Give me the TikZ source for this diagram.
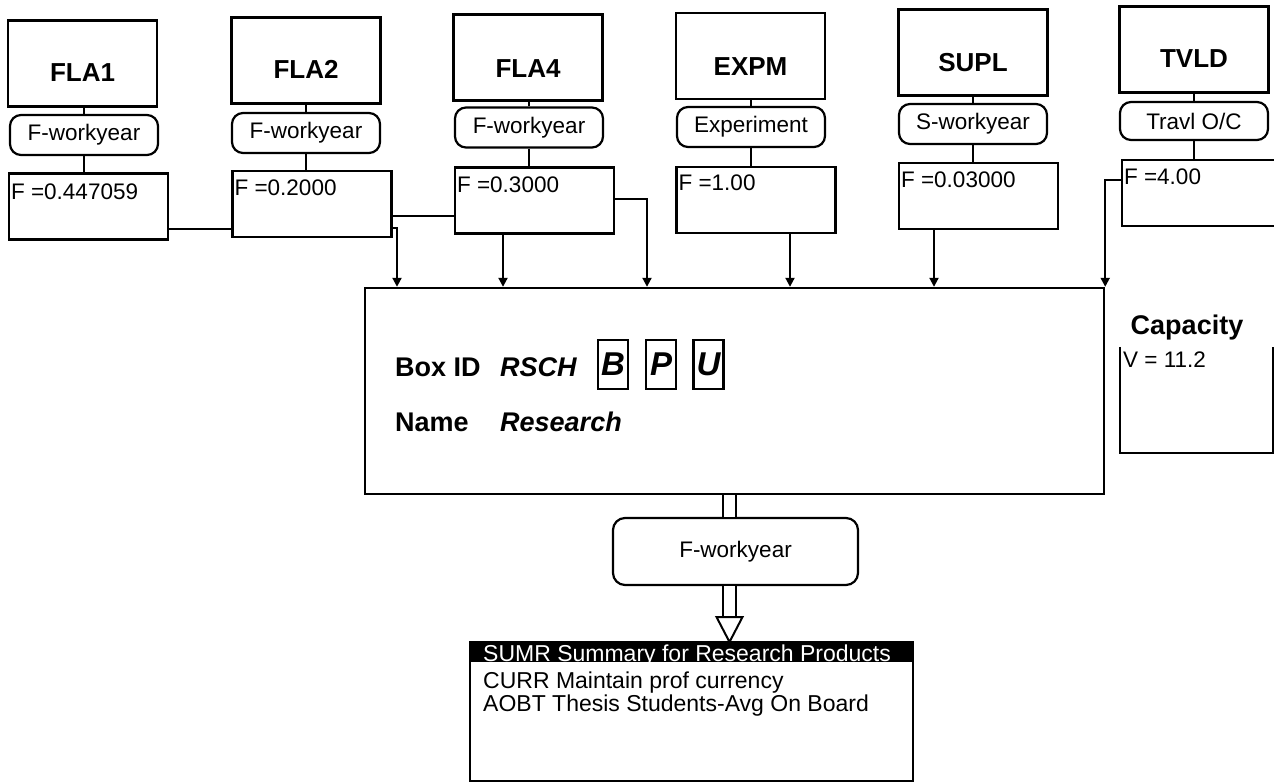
\documentclass[tikz,border=0pt]{standalone}
\usepackage{fontspec}
\setmainfont{Liberation Sans}
\usetikzlibrary{arrows.meta,calc}
\newcommand\fsTitle{\fontsize{26}{29}\selectfont\bfseries}
\newcommand\fsPill{\fontsize{22.5}{25}\selectfont}
\newcommand\fsBig{\fontsize{27}{30}\selectfont\bfseries}
\newcommand\fsList{\fontsize{23}{25}\selectfont}
\tikzset{
  tbox/.style={draw, line width=2.4pt, minimum width=149pt, minimum height=86pt, inner sep=0pt},
  ttext/.style={font=\fsTitle, inner sep=0pt},
  pill/.style={draw, line width=2.2pt, rounded corners=11pt, minimum width=148pt, minimum height=40pt, inner sep=0pt, font=\fsPill},
  fbox/.style={draw, line width=2.2pt, minimum width=159pt, minimum height=66pt, inner sep=0pt},
  ftext/.style={font=\fsPill, anchor=base west, inner sep=0pt},
  ln/.style={line width=2pt},
  arr/.style={line width=2pt, -{Triangle[width=9pt,length=9pt]}},
  letterbox/.style={draw, line width=2.2pt, minimum width=30pt, minimum height=49pt, inner sep=0pt, font=\fontsize{33}{36}\selectfont\bfseries\itshape},
}
\begin{document}
\begin{tikzpicture}[x=1pt,y=-1pt]
\useasboundingbox (0,0) rectangle (1274,783);
\fill[white] (0,0) rectangle (1274,783);
\clip (0,0) rectangle (1274,783);

% title boxes
\node[tbox] (t1) at (82.5,63.5) {};
\node[tbox] (t2) at (306,60.5) {};
\node[tbox] (t4) at (528,57.5) {};
\node[tbox] (te) at (750.5,56) {};
\node[tbox] (ts) at (973,52.5) {};
\node[tbox] (tt) at (1194,49.5) {};
\node[ttext] (t1l) at ([yshift=-9pt]t1.center) {FLA1};
\node[ttext] (t2l) at ([yshift=-9pt]t2.center) {FLA2};
\node[ttext] (t4l) at ([yshift=-11pt]t4.center) {FLA4};
\node[ttext] (tel) at ([yshift=-11pt]te.center) {EXPM};
\node[ttext] (tsl) at ([yshift=-10pt]ts.center) {SUPL};
\node[ttext] (ttl) at ([yshift=-9pt]tt.center) {TVLD};

% pills
\node[pill] (p1) at (84,135) {F-workyear};
\node[pill] (p2) at (306,133) {F-workyear};
\node[pill] (p4) at (529,127.5) {F-workyear};
\node[pill] (pe) at (751,127) {Experiment};
\node[pill] (ps) at (973,124) {S-workyear};
\node[pill, minimum height=38pt] (pt) at (1194,121) {Travl O/C};

% F boxes
\node[fbox] (f1) at (88.5,206.5) {};
\node[fbox] (f2) at (312,204) {};
\node[fbox] (f4) at (534.5,200.5) {};
\node[fbox] (fe) at (756,200) {};
\node[fbox] (fs) at (978.5,196) {};
\node[fbox] (ft) at (1201.5,193) {};
\node[ftext] (f1l) at ($(f1.north west)+(3,27)$) {F =0.447059};
\node[ftext] (f2l) at ($(f2.north west)+(3,26)$) {F =0.2000};
\node[ftext] (f4l) at ($(f4.north west)+(3,26)$) {F =0.3000};
\node[ftext] (fel) at ($(fe.north west)+(3,25)$) {F =1.00};
\node[ftext] (fsl) at ($(fs.north west)+(3,26)$) {F =0.03000};
\node[ftext] (ftl) at ($(ft.north west)+(3,26)$) {F =4.00};

% vertical links
\foreach \p/\t/\f in {p1/t1/f1, p2/t2/f2, p4/t4/f4, pe/te/fe, ps/ts/fs, pt/tt/ft}{
  \draw[ln] (\p.north) -- (\p.north |- \t.south);
  \draw[ln] (\p.south) -- (\p.south |- \f.north);
}

% main box
\node[draw, line width=2.4pt, minimum width=739pt, minimum height=206pt, inner sep=0pt] (main) at (734.5,391) {};
\node[font=\fsBig, anchor=base west, inner sep=0pt] (boxid) at (395,377) {Box ID};
\node[font=\fsBig\itshape, anchor=base west, inner sep=0pt] (rsch) at (500,377) {RSCH};
\node[letterbox] (lb) at (613,364.5) {B};
\node[letterbox] (lp) at (661,364.5) {P};
\node[letterbox] (lu) at (708.5,364.5) {U};
\node[font=\fsBig, anchor=base west, inner sep=0pt] (namel) at (395,431) {Name};
\node[font=\fsBig\itshape, anchor=base west, inner sep=0pt] (namev) at (500,431) {Research};

% horizontal connections and arrows
\draw[ln] (f1.east |- 0,229) -- (f2.west |- 0,229);
\draw[ln] (f2.east |- 0,216) -- (f4.west |- 0,216);
\draw[arr] (f2.east |- 0,228) -| (397,0 |- main.north);
\draw[arr] (503,0 |- f4.south) -- (503,0 |- main.north);
\draw[arr] (f4.east |- 0,199) -| (647,0 |- main.north);
\draw[arr] (790,0 |- fe.south) -- (790,0 |- main.north);
\draw[arr] (934,0 |- fs.south) -- (934,0 |- main.north);
\draw[arr] (ft.west |- 0,180) -| (main.north east);

% capacity
\node[font=\fontsize{27}{30}\selectfont\bfseries, inner sep=0pt, anchor=base] (capt) at (1187,335) {Capacity};
\node[minimum width=153pt, minimum height=106pt, inner sep=0pt] (cap) at (1196.5,400) {};
\draw[line width=1.8pt] (cap.north west) -- (cap.south west) -- (cap.south east) -- (cap.north east);
\node[font=\fsPill, anchor=base west, inner sep=0pt] (capv) at (1123,368) {V = 11.2};

% output
\node[draw, line width=2.2pt, rounded corners=12pt, minimum width=245pt, minimum height=67pt, inner sep=0pt, font=\fsPill] (op) at (735.5,551.5) {F-workyear};
\node[draw, line width=2.2pt, minimum width=443pt, minimum height=139pt, inner sep=0pt] (list) at (691.5,711.5) {};
\coordinate (tri) at (729.5,617);
\draw[line width=2pt, double, double distance=11pt] (main.south -| tri) -- (op.north -| tri);
\draw[line width=2pt, double, double distance=11pt] (op.south -| tri) -- (tri);
\draw[line width=2pt, fill=white, line join=miter] ($(tri)+(-13,0)$) -- ($(tri)+(13,0)$) -- ($(tri)+(0,25)$) -- cycle;
\fill[black] (list.north west) rectangle ($(list.north east)+(0,21)$);
\node[font=\fsList, text=white, anchor=base west, inner sep=0pt] (l1) at (483,661) {SUMR Summary for Research Products};
\node[font=\fsList, anchor=base west, inner sep=0pt] (l2) at (483,688) {CURR Maintain prof currency};
\node[font=\fsList, anchor=base west, inner sep=0pt] (l3) at (483,711) {AOBT Thesis Students-Avg On Board};
\end{tikzpicture}
\end{document}
